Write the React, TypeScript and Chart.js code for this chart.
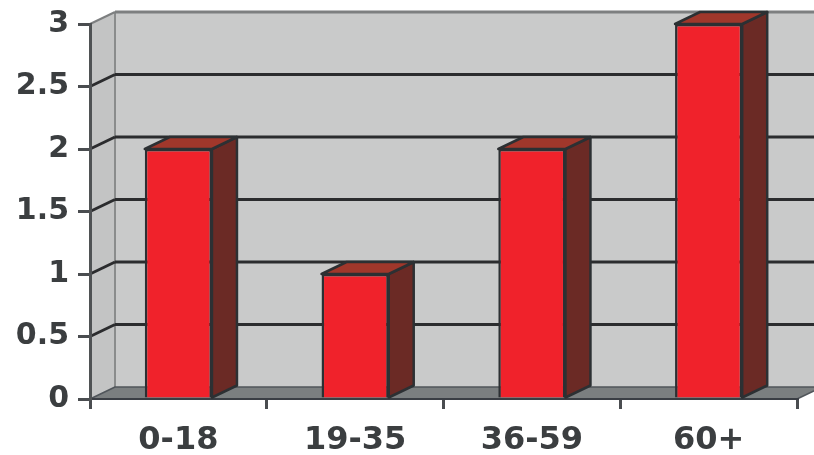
import { useEffect, useRef } from "react";
import { Chart, registerables } from "chart.js";
Chart.register(...registerables);

const categories = ["0-18", "19-35", "36-59", "60+"];
const values = [2, 1, 2, 3];
const yTickValues = [0, 0.5, 1, 1.5, 2, 2.5, 3];
const yTickLabels = ["0", "0.5", "1", "1.5", "2", "2.5", "3"];

const DX = 25;
const DY = -12;

function poly(ctx: CanvasRenderingContext2D, pts: number[][], fill: string, stroke?: string, lw = 2) {
  ctx.beginPath();
  ctx.moveTo(pts[0][0], pts[0][1]);
  for (let i = 1; i < pts.length; i++) ctx.lineTo(pts[i][0], pts[i][1]);
  ctx.closePath();
  ctx.fillStyle = fill;
  ctx.fill();
  if (stroke) {
    ctx.strokeStyle = stroke;
    ctx.lineWidth = lw;
    ctx.lineJoin = "round";
    ctx.stroke();
  }
}

function line(ctx: CanvasRenderingContext2D, x1: number, y1: number, x2: number, y2: number, color: string, lw: number) {
  ctx.beginPath();
  ctx.moveTo(x1, y1);
  ctx.lineTo(x2, y2);
  ctx.strokeStyle = color;
  ctx.lineWidth = lw;
  ctx.stroke();
}

const plugin3d = {
  id: "bars3d",
  beforeDraw(chart: any) {
    const { ctx, chartArea, scales } = chart;
    const { left, right, top, bottom } = chartArea;
    const y = scales.y;
    ctx.save();
    poly(ctx, [[left, top], [left + DX, top + DY], [left + DX, bottom + DY], [left, bottom]], "#c3c4c4");
    poly(ctx, [[left + DX, top + DY], [right + DX, top + DY], [right + DX, bottom + DY], [left + DX, bottom + DY]], "#c9caca");
    line(ctx, left + DX, top + DY, left + DX, bottom + DY, "#8a8c8c", 2);
    line(ctx, left + DX, top + DY, right + DX, top + DY, "#7d7f80", 3);
    line(ctx, left, top, left + DX, top + DY, "#7d7f80", 2);
    yTickValues.forEach((v) => {
      if (v === 0 || v === yTickValues[yTickValues.length - 1]) return;
      const py = y.getPixelForValue(v);
      line(ctx, left + DX, py + DY, right + DX, py + DY, "#2b2c2e", 3);
      line(ctx, left, py, left + DX, py + DY, "#2b2c2e", 3);
    });
    poly(ctx, [[left, bottom], [right, bottom], [right + DX, bottom + DY], [left + DX, bottom + DY]], "#7b7f80", "#50555a", 1.5);
    ctx.restore();
  },
  afterDatasetsDraw(chart: any) {
    const { ctx } = chart;
    const meta = chart.getDatasetMeta(0);
    ctx.save();
    meta.data.forEach((bar: any) => {
      const { x, y, base, width } = bar.getProps(["x", "y", "base", "width"], true);
      const x1 = x - width / 2;
      const x2 = x + width / 2;
      poly(ctx, [[x2, y], [x2 + DX, y + DY], [x2 + DX, base + DY], [x2, base]], "#6b2a25", "#2c3033", 2.5);
      poly(ctx, [[x1, y], [x1 + DX, y + DY], [x2 + DX, y + DY], [x2, y]], "#a0372b", "#2c3033", 2.5);
    });
    ctx.restore();
  },
};

export default function App() {
  const ref = useRef<HTMLCanvasElement>(null);
  useEffect(() => {
    const chart = new Chart(ref.current!, {
      type: "bar",
      data: {
        labels: categories,
        datasets: [
          {
            data: values,
            backgroundColor: "#f0222b",
            borderColor: "#2c3033",
            borderWidth: 2.5,
            barPercentage: 0.38,
            categoryPercentage: 1,
          },
        ],
      },
      options: {
        animation: false,
        responsive: false,
        layout: { padding: { top: 23, right: 17, left: 0, bottom: 0 } },
        plugins: { legend: { display: false }, tooltip: { enabled: false } },
        scales: {
          x: {
            offset: true,
            grid: { offset: true, drawOnChartArea: false, drawTicks: true, tickLength: 10, color: "#4a4d50", lineWidth: 3 },
            border: { display: true, color: "#3a3e44", width: 2 },
            ticks: {
              font: { family: "'DejaVu Sans', Verdana, sans-serif", weight: "bold", size: 32 },
              color: "#3b3e40",
              padding: 12,
            },
            afterFit(s: any) {
              s.height = 56;
            },
          },
          y: {
            min: 0,
            max: 3,
            afterBuildTicks(s: any) {
              s.ticks = yTickValues.map((v) => ({ value: v }));
            },
            ticks: {
              callback: (_v: any, i: number) => yTickLabels[i],
              font: { family: "'DejaVu Sans', Verdana, sans-serif", weight: "bold", size: 30, lineHeight: 1 },
              color: "#3b3e40",
              padding: 9,
            },
            grid: { drawOnChartArea: false, drawTicks: true, tickLength: 12, color: "#4a4d50", lineWidth: 3 },
            border: { display: true, color: "#4f5254", width: 3 },
            afterFit(s: any) {
              s.width = 90;
            },
          },
        },
      },
      plugins: [plugin3d],
    } as any);
    return () => chart.destroy();
  }, []);
  return (
    <div style={{ position: "fixed", left: 0, top: 0, width: 814, height: 455, background: "#fff" }}>
      <canvas ref={ref} width={814} height={455} style={{ display: "block" }} />
    </div>
  );
}
